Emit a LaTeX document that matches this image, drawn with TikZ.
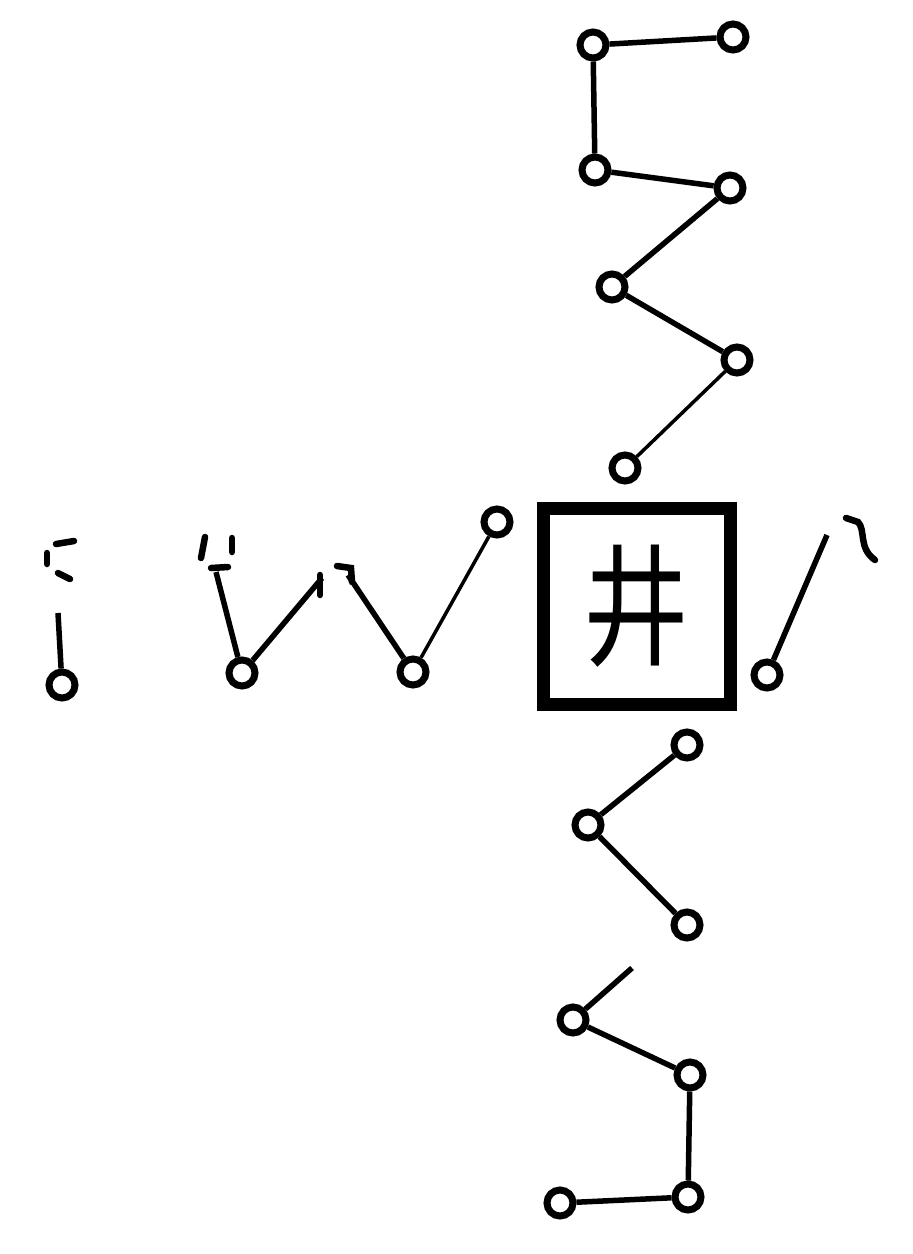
\documentclass[tikz,border=0pt]{standalone}
\usepackage{fontspec}
\newfontfamily\cjk{Noto Sans CJK SC}
\begin{document}
\begin{tikzpicture}[x=1pt,y=-1pt,
  star/.style={circle,draw,line width=7pt,minimum size=26pt,inner sep=0pt},
  link/.style={line width=5.5pt},
  faint link/.style={line width=3.5pt},
  frag/.style={line width=6.5pt,line cap=round},
  well/.style={draw,line width=13pt,minimum width=187pt,minimum height=196pt,inner sep=0pt}]
\fill[white] (0,0) rectangle (913,1254);
% central square
\node[well] (W) at (636.5,606) {\cjk\fontsize{132}{132}\selectfont\scalebox{0.8}[1]{井}};
% upper chain
\node[star] (A) at (593,45) {};
\node[star] (B) at (733,37) {};
\node[star] (C) at (595,170) {};
\node[star] (D) at (730,188) {};
\node[star] (E) at (612,287) {};
\node[star] (F) at (737,360) {};
\node[star] (G) at (625,468) {};
\draw[link] (A) -- (B);
\draw[link] (A) -- (C);
\draw[link] (C) -- (D);
\draw[link] (D) -- (E);
\draw[link] (E) -- (F);
\draw[faint link] (F) -- (G);
% lower chain
\node[star] (H) at (687,745) {};
\node[star] (I) at (588,825) {};
\node[star] (J) at (687,925) {};
\node[star] (K) at (573,1020) {};
\node[star] (L) at (690,1075) {};
\node[star] (M) at (688,1197) {};
\node[star] (N) at (560,1203) {};
\coordinate (Kend) at (632,968);
\draw[link] (H) -- (I);
\draw[link] (I) -- (J);
\draw[link] (K) -- (Kend);
\draw[link] (K) -- (L);
\draw[link] (L) -- (M);
\draw[link] (M) -- (N);
% right of square
\node[star] (R) at (767,675) {};
\coordinate (Rend) at (827,535);
\draw[link] (R) -- (Rend);
\draw[frag] (846,518) -- (858,522) .. controls (866,530) and (858,548) .. (875,560);
% left group
\node[star] (L1) at (62,685) {};
\node[star] (L2) at (242,673) {};
\node[star] (L3) at (413,672) {};
\node[star] (L4) at (497,522) {};
\coordinate (L1end) at (58,613);
\coordinate (L2a) at (216,572);
\coordinate (L2b) at (322,578);
\coordinate (L3a) at (348,575);
\draw[link] (L1) -- (L1end);
\draw[link] (L2) -- (L2a);
\draw[link] (L2) -- (L2b);
\draw[link] (L3) -- (L3a);
\draw[faint link] (L3) -- (L4);
% broken fragments
\draw[frag] (56,544) -- (74,541);
\draw[frag] (47,553) -- (47,564);
\draw[frag] (58,573) -- (70,579);
\draw[frag] (205,537) -- (201,558);
\draw[frag] (232,538) -- (232,552);
\draw[frag] (211,568) -- (228,567);
\draw[frag] (320,575) -- (320,595);
\draw[frag] (337,566) -- (351,568) -- (352,582);
\end{tikzpicture}
\end{document}
